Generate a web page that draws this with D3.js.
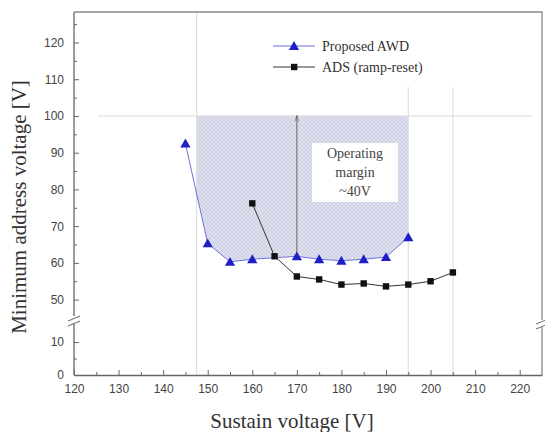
<!DOCTYPE html>
<html>
<head>
<meta charset="utf-8">
<script src="https://cdn.jsdelivr.net/npm/d3@7"></script>
<style>
  body { margin: 0; background: #fff; }
  svg text { font-family: "Liberation Serif", serif; }
  .tick text { font-family: "Liberation Sans", Arial, sans-serif; }
</style>
</head>
<body>
<div id="chart"></div>
<script>
// data
var awdX = [145, 150, 155, 160, 170, 175, 180, 185, 190, 195];
var awdY = [92.5, 65.3, 60.3, 61, 61.8, 61, 60.6, 61, 61.6, 67];
var adsX = [160, 165, 170, 175, 180, 185, 190, 195, 200, 205];
var adsY = [76.2, 61.8, 56.3, 55.5, 54.1, 54.4, 53.6, 54.1, 55, 57.4];
var xTicks = [120, 130, 140, 150, 160, 170, 180, 190, 200, 210, 220];
var yTicksUpper = [50, 60, 70, 80, 90, 100, 110, 120];
var yTicksLower = [0, 10];
var seriesNames = ["Proposed AWD", "ADS (ramp-reset)"];
var marginLabel = ["Operating", "margin", "~40V"];
var marginRange = [147.5, 195]; // shaded window
var marginTop = 100;
var marginArrowX = 170;
var refLinesX = [195, 205];

var svgWidth = 545, svgHeight = 432;
var plotL = 74, plotR = 542, plotT = 12, plotB = 375, breakY = 318;

var svg = d3.select("#chart").append("svg")
    .attr("width", svgWidth)
    .attr("height", svgHeight);

var x = d3.scaleLinear().domain([120, 225]).range([plotL, plotR]);
var yUp = d3.scaleLinear().domain([45, 128.3]).range([breakY, plotT]);
var yLow = d3.scaleLinear().domain([0, 17.3]).range([plotB, breakY]);

// hatch pattern for operating window
var defs = svg.append("defs");
var pat = defs.append("pattern")
    .attr("id", "hatch")
    .attr("patternUnits", "userSpaceOnUse")
    .attr("width", 4).attr("height", 4);
pat.append("rect").attr("width", 4).attr("height", 4).attr("fill", "#dee0ee");
pat.append("path").attr("d", "M0,4 L4,0 M0,0 L4,4")
    .attr("stroke", "#c8cbdf").attr("stroke-width", 0.7);

defs.append("marker")
    .attr("id", "arrow")
    .attr("viewBox", "0 0 10 10")
    .attr("refX", 5).attr("refY", 1)
    .attr("markerWidth", 6).attr("markerHeight", 8)
    .attr("markerUnits", "userSpaceOnUse")
    .attr("orient", "0")
    .append("path")
    .attr("d", "M2,10 L5,0 L8,10")
    .attr("fill", "none")
    .attr("stroke", "#555").attr("stroke-width", 1);

// shaded region: above the AWD curve, below 100 V, between the two limits
var interp = function (xv) {
    for (var i = 0; i < awdX.length - 1; i++) {
        if (xv >= awdX[i] && xv <= awdX[i + 1]) {
            var t = (xv - awdX[i]) / (awdX[i + 1] - awdX[i]);
            return awdY[i] + t * (awdY[i + 1] - awdY[i]);
        }
    }
    return awdY[awdY.length - 1];
};
var poly = [[marginRange[0], marginTop], [marginRange[0], interp(marginRange[0])]];
awdX.forEach(function (d, i) {
    if (d > marginRange[0] && d <= marginRange[1]) poly.push([d, awdY[i]]);
});
poly.push([marginRange[1], marginTop]);
svg.append("path")
    .attr("d", d3.line().x(d => x(d[0])).y(d => yUp(d[1]))(poly))
    .attr("fill", "url(#hatch)");

// light reference lines
svg.append("line")
    .attr("x1", plotL + 24).attr("x2", plotR - 10)
    .attr("y1", yUp(marginTop)).attr("y2", yUp(marginTop))
    .attr("stroke", "#e2e2e2").attr("stroke-width", 1.2);
svg.append("line")
    .attr("x1", x(marginRange[0])).attr("x2", x(marginRange[0]))
    .attr("y1", plotT).attr("y2", plotB)
    .attr("stroke", "#e0e0e0").attr("stroke-width", 1.2);
refLinesX.forEach(function (v) {
    svg.append("line")
        .attr("x1", x(v)).attr("x2", x(v))
        .attr("y1", 87).attr("y2", plotB)
        .attr("stroke", "#e0e0e0").attr("stroke-width", 1.2);
});

// margin arrow and label box
svg.append("line")
    .attr("x1", x(marginArrowX)).attr("x2", x(marginArrowX))
    .attr("y1", yUp(marginTop)).attr("y2", yUp(62))
    .attr("stroke", "#666").attr("stroke-width", 1)
    .attr("marker-start", "url(#arrow)");
svg.append("rect")
    .attr("x", 312).attr("y", 143).attr("width", 86).attr("height", 59)
    .attr("fill", "#fff");
svg.append("text")
    .attr("x", 355).attr("y", 158)
    .attr("text-anchor", "middle")
    .attr("font-size", 14).attr("fill", "#444")
    .selectAll("tspan").data(marginLabel).enter().append("tspan")
    .attr("x", 355).attr("dy", (d, i) => i ? 19 : 0)
    .text(d => d);

// frame
svg.append("path")
    .attr("d", `M${plotL},${plotT} H${plotR} V${breakY + 2} M${plotR},${breakY + 9} V${plotB}`)
    .attr("fill", "none").attr("stroke", "#888").attr("stroke-width", 1.3);

// axes
var tickStyle = function (g) {
    g.select(".domain").attr("stroke", "#666").attr("stroke-width", 1.3);
    g.selectAll(".tick line").attr("stroke", "#666");
    g.selectAll(".tick text").attr("fill", "#444").attr("font-size", 12);
};
var xMinor = d3.range(125, 225, 10);
svg.append("g")
    .attr("transform", `translate(0,${plotB})`)
    .call(d3.axisBottom(x).tickValues(xTicks).tickSizeInner(-5).tickSizeOuter(0).tickPadding(9))
    .call(tickStyle);
svg.append("g")
    .attr("transform", `translate(0,${plotB})`)
    .call(d3.axisBottom(x).tickValues(xMinor).tickSizeInner(-3).tickSizeOuter(0).tickFormat(""))
    .call(g => g.select(".domain").remove())
    .call(tickStyle);

svg.append("g")
    .attr("transform", `translate(${plotL},0)`)
    .call(d3.axisLeft(yUp).tickValues(yTicksUpper).tickSizeInner(-5).tickSizeOuter(0).tickPadding(10))
    .call(tickStyle)
    .call(g => g.select(".domain").attr("d", `M0,${plotT}V${breakY - 2}`));
svg.append("g")
    .attr("transform", `translate(${plotL},0)`)
    .call(d3.axisLeft(yUp).tickValues(d3.range(55, 130, 10)).tickSizeInner(-3).tickSizeOuter(0).tickFormat(""))
    .call(g => g.select(".domain").remove())
    .call(tickStyle);
svg.append("g")
    .attr("transform", `translate(${plotL},0)`)
    .call(d3.axisLeft(yLow).tickValues(yTicksLower).tickSizeInner(-5).tickSizeOuter(0).tickPadding(10))
    .call(tickStyle)
    .call(g => g.select(".domain").attr("d", `M0,${breakY + 6}V${plotB}`));
svg.append("g")
    .attr("transform", `translate(${plotL},0)`)
    .call(d3.axisLeft(yLow).tickValues([5]).tickSizeInner(-3).tickSizeOuter(0).tickFormat(""))
    .call(g => g.select(".domain").remove())
    .call(tickStyle);

// break marks
[plotL, plotR].forEach(function (bx, i) {
    var by = i ? breakY + 5 : breakY + 2;
    svg.append("path")
        .attr("d", `M${bx - 6},${by + 1} L${bx + 6},${by - 4} M${bx - 6},${by + 6} L${bx + 6},${by + 1}`)
        .attr("stroke", "#777").attr("stroke-width", 1.1).attr("fill", "none");
});

// series
var awd = awdX.map((d, i) => [d, awdY[i]]);
var ads = adsX.map((d, i) => [d, adsY[i]]);
var line = d3.line().x(d => x(d[0])).y(d => yUp(d[1]));

svg.append("path").attr("d", line(ads))
    .attr("fill", "none").attr("stroke", "#333").attr("stroke-width", 1);
svg.append("path").attr("d", line(awd))
    .attr("fill", "none").attr("stroke", "#7070e0").attr("stroke-width", 1);

svg.selectAll(".sq").data(ads).enter().append("rect")
    .attr("x", d => x(d[0]) - 3.2).attr("y", d => yUp(d[1]) - 3.2)
    .attr("width", 6.4).attr("height", 6.4).attr("fill", "#111");
svg.selectAll(".tri").data(awd).enter().append("path")
    .attr("d", d3.symbol(d3.symbolTriangle, 45))
    .attr("transform", d => `translate(${x(d[0])},${yUp(d[1]) + 1})`)
    .attr("fill", "#1f1fc8");

// legend
var legY = [46, 67];
seriesNames.forEach(function (name, i) {
    svg.append("line")
        .attr("x1", 273).attr("x2", 315)
        .attr("y1", legY[i]).attr("y2", legY[i])
        .attr("stroke", i ? "#333" : "#7070e0").attr("stroke-width", 1);
    if (i) {
        svg.append("rect").attr("x", 291).attr("y", legY[i] - 3.2)
            .attr("width", 6.4).attr("height", 6.4).attr("fill", "#111");
    } else {
        svg.append("path").attr("d", d3.symbol(d3.symbolTriangle, 45))
            .attr("transform", `translate(294,${legY[i] + 1})`)
            .attr("fill", "#1f1fc8");
    }
    svg.append("text")
        .attr("x", 322).attr("y", legY[i] + 5)
        .attr("font-size", 14).attr("fill", "#333")
        .text(name);
});

// axis titles
svg.append("text")
    .attr("x", 292).attr("y", 428)
    .attr("text-anchor", "middle")
    .attr("font-size", 21).attr("fill", "#333")
    .text("Sustain voltage [V]");
svg.append("text")
    .attr("transform", "translate(26,207) rotate(-90)")
    .attr("text-anchor", "middle")
    .attr("font-size", 21).attr("fill", "#333")
    .text("Minimum address voltage [V]");
</script>
</body>
</html>
